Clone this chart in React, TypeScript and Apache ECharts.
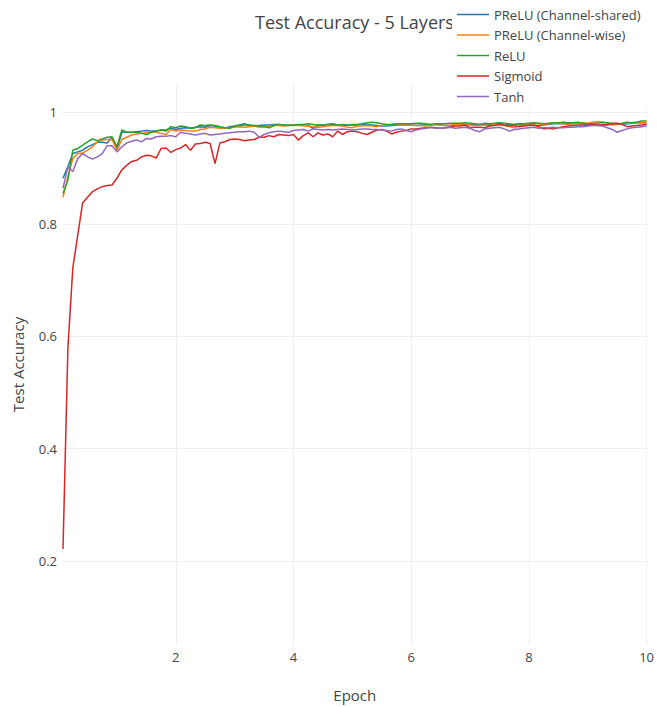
import React, { useEffect, useRef } from "react";
import * as echarts from "echarts";

// Evaluation runs every 1/12 of an epoch, from 1/12 up to epoch 10.
const stepsPerEpoch = 12;
const epochs: number[] = Array.from({ length: 120 }, (_, i) => (i + 1) / stepsPerEpoch);

const seriesNames = [
  "PReLU (Channel-shared)",
  "PReLU (Channel-wise)",
  "ReLU",
  "Sigmoid",
  "Tanh",
];
const seriesColors = ["#1f77b4", "#ff7f0e", "#2ca02c", "#d62728", "#9467bd"];

const preluShared = [
  0.882, 0.903, 0.926, 0.929, 0.932, 0.938, 0.942, 0.946, 0.946, 0.945,
  0.955, 0.934, 0.964, 0.964, 0.964, 0.965, 0.966, 0.967, 0.966, 0.966,
  0.968, 0.968, 0.971, 0.969, 0.971, 0.972, 0.971, 0.973, 0.974, 0.973,
  0.976, 0.975, 0.972, 0.971, 0.974, 0.975, 0.977, 0.979, 0.976, 0.975,
  0.976, 0.977, 0.977, 0.978, 0.978, 0.977, 0.976, 0.977, 0.977, 0.976,
  0.976, 0.971, 0.976, 0.977, 0.978, 0.979, 0.977, 0.976, 0.977, 0.977,
  0.977, 0.978, 0.978, 0.977, 0.976, 0.975, 0.975, 0.976, 0.977, 0.977,
  0.977, 0.977, 0.976, 0.977, 0.977, 0.978, 0.978, 0.977, 0.976, 0.975,
  0.978, 0.979, 0.976, 0.978, 0.977, 0.978, 0.977, 0.978, 0.979, 0.98,
  0.979, 0.977, 0.978, 0.979, 0.979, 0.978, 0.976, 0.976, 0.977, 0.978,
  0.979, 0.979, 0.979, 0.98, 0.981, 0.98, 0.979, 0.978, 0.977, 0.976,
  0.977, 0.978, 0.979, 0.979, 0.978, 0.979, 0.98, 0.981, 0.981, 0.98,
];

const preluWise = [
  0.848, 0.885, 0.917, 0.926, 0.927, 0.932, 0.938, 0.947, 0.95, 0.951,
  0.951, 0.932, 0.951, 0.955, 0.959, 0.961, 0.962, 0.963, 0.965, 0.964,
  0.962, 0.96, 0.969, 0.966, 0.968, 0.967, 0.966, 0.966, 0.969, 0.97,
  0.973, 0.972, 0.971, 0.971, 0.972, 0.973, 0.974, 0.973, 0.974, 0.975,
  0.973, 0.974, 0.974, 0.976, 0.976, 0.975, 0.976, 0.977, 0.976, 0.976,
  0.975, 0.974, 0.973, 0.974, 0.975, 0.976, 0.976, 0.975, 0.973, 0.972,
  0.975, 0.975, 0.976, 0.975, 0.974, 0.976, 0.977, 0.978, 0.979, 0.978,
  0.977, 0.977, 0.976, 0.976, 0.975, 0.977, 0.978, 0.977, 0.976, 0.977,
  0.978, 0.979, 0.978, 0.977, 0.976, 0.977, 0.977, 0.976, 0.978, 0.977,
  0.977, 0.974, 0.972, 0.975, 0.977, 0.979, 0.98, 0.979, 0.978, 0.979,
  0.98, 0.98, 0.979, 0.978, 0.979, 0.98, 0.981, 0.98, 0.982, 0.983,
  0.982, 0.98, 0.977, 0.978, 0.979, 0.98, 0.981, 0.982, 0.981, 0.98,
];

const relu = [
  0.855, 0.879, 0.932, 0.935, 0.941, 0.947, 0.952, 0.949, 0.952, 0.955,
  0.956, 0.938, 0.968, 0.964, 0.964, 0.964, 0.962, 0.96, 0.964, 0.966,
  0.968, 0.966, 0.974, 0.972, 0.975, 0.974, 0.971, 0.972, 0.977, 0.976,
  0.977, 0.976, 0.974, 0.972, 0.971, 0.975, 0.976, 0.977, 0.977, 0.976,
  0.975, 0.974, 0.972, 0.976, 0.978, 0.977, 0.977, 0.976, 0.978, 0.978,
  0.979, 0.978, 0.977, 0.977, 0.978, 0.978, 0.977, 0.978, 0.977, 0.978,
  0.978, 0.979, 0.981, 0.982, 0.981, 0.979, 0.978, 0.978, 0.979, 0.979,
  0.979, 0.979, 0.98, 0.98, 0.979, 0.978, 0.979, 0.979, 0.979, 0.98,
  0.98, 0.98, 0.981, 0.98, 0.979, 0.978, 0.98, 0.979, 0.98, 0.981,
  0.98, 0.979, 0.978, 0.978, 0.979, 0.98, 0.981, 0.98, 0.979, 0.98,
  0.981, 0.981, 0.982, 0.981, 0.981, 0.982, 0.98, 0.979, 0.979, 0.98,
  0.982, 0.981, 0.98, 0.979, 0.98, 0.982, 0.981, 0.982, 0.984, 0.984,
];

const sigmoid = [
  0.221, 0.58, 0.722, 0.78, 0.838, 0.848, 0.858, 0.863, 0.867, 0.869,
  0.87, 0.882, 0.897, 0.905, 0.912, 0.914, 0.92, 0.923, 0.922, 0.918,
  0.935, 0.936, 0.928, 0.933, 0.936, 0.942, 0.932, 0.943, 0.944, 0.946,
  0.944, 0.908, 0.945, 0.947, 0.951, 0.952, 0.951, 0.949, 0.95, 0.951,
  0.955, 0.955, 0.958, 0.956, 0.96, 0.959, 0.958, 0.96, 0.95, 0.958,
  0.963, 0.956, 0.963, 0.959, 0.961, 0.956, 0.966, 0.96, 0.965, 0.966,
  0.965, 0.962, 0.96, 0.964, 0.968, 0.969, 0.966, 0.961, 0.964, 0.966,
  0.967, 0.97, 0.97, 0.971, 0.972, 0.973, 0.972, 0.971, 0.972, 0.973,
  0.975, 0.975, 0.977, 0.972, 0.973, 0.973, 0.972, 0.975, 0.976, 0.978,
  0.976, 0.975, 0.976, 0.974, 0.975, 0.976, 0.977, 0.974, 0.97, 0.971,
  0.97, 0.972, 0.974, 0.975, 0.976, 0.977, 0.977, 0.976, 0.978, 0.977,
  0.978, 0.977, 0.979, 0.98, 0.978, 0.974, 0.975, 0.976, 0.977, 0.978,
];

const tanh = [
  0.864, 0.903, 0.894, 0.917, 0.926, 0.92, 0.916, 0.92, 0.926, 0.94,
  0.94, 0.929, 0.938, 0.945, 0.948, 0.95, 0.947, 0.953, 0.952, 0.956,
  0.957, 0.957, 0.958, 0.956, 0.964, 0.962, 0.961, 0.959, 0.961, 0.962,
  0.959, 0.96, 0.961, 0.962, 0.963, 0.964, 0.965, 0.965, 0.966, 0.964,
  0.955, 0.96, 0.963, 0.965, 0.966, 0.965, 0.964, 0.967, 0.968, 0.969,
  0.966, 0.97, 0.969, 0.968, 0.969, 0.968, 0.969, 0.97, 0.969, 0.968,
  0.969, 0.97, 0.97, 0.969, 0.969, 0.968, 0.967, 0.966, 0.969, 0.97,
  0.967, 0.965, 0.968, 0.97, 0.971, 0.973, 0.971, 0.971, 0.972, 0.973,
  0.971, 0.972, 0.973, 0.971, 0.967, 0.965, 0.97, 0.971, 0.972, 0.973,
  0.97, 0.966, 0.969, 0.97, 0.971, 0.972, 0.973, 0.971, 0.972, 0.972,
  0.973, 0.972, 0.972, 0.973, 0.973, 0.974, 0.974, 0.975, 0.976, 0.976,
  0.975, 0.972, 0.969, 0.964, 0.967, 0.97, 0.972, 0.973, 0.974, 0.975,
];

const xTicks = [2, 4, 6, 8, 10];
const yTicks = [0.2, 0.4, 0.6, 0.8, 1];

const FONT = "'Open Sans', 'Noto Sans', sans-serif";
const TEXT = "#444";
// Thin horizontal bar used as the legend swatch (a plain line, no marker).
const LINE_ICON = "path://M0,0 L32,0 L32,1.5 L0,1.5 Z";

export default function App() {
  const ref = useRef<HTMLDivElement>(null);

  useEffect(() => {
    if (!ref.current) return;
    const chart = echarts.init(ref.current, undefined, { renderer: "svg" });
    const allSeries = [preluShared, preluWise, relu, sigmoid, tanh];

    chart.setOption({
      animation: false,
      backgroundColor: "#fff",
      textStyle: { fontFamily: FONT },
      title: {
        text: "Test Accuracy - 5 Layers",
        left: 250,
        top: 8,
        z: 2,
        textStyle: { fontFamily: FONT, fontSize: 18, fontWeight: "normal", color: TEXT },
      },
      legend: {
        orient: "vertical",
        left: 452,
        top: 0,
        z: 10,
        backgroundColor: "#fff",
        padding: [8, 12, 7, 5],
        itemWidth: 32,
        itemHeight: 14,
        itemGap: 7.5,
        icon: LINE_ICON,
        textStyle: { fontFamily: FONT, fontSize: 13, color: TEXT },
        data: seriesNames,
      },
      grid: { left: 63, right: 9, top: 84, bottom: 62, containLabel: false },
      xAxis: {
        type: "value",
        min: 1 / stepsPerEpoch,
        max: 10,
        name: "Epoch",
        nameLocation: "middle",
        nameGap: 42,
        nameTextStyle: { fontFamily: FONT, fontSize: 15, color: TEXT },
        axisLine: { show: false },
        axisTick: { show: false, customValues: xTicks },
        axisLabel: {
          customValues: xTicks,
          margin: 5,
          fontFamily: FONT,
          fontSize: 13,
          color: TEXT,
        },
        splitLine: { show: true, lineStyle: { color: "#eee", width: 1 } },
      },
      yAxis: {
        type: "value",
        min: 0.05,
        max: 1.05,
        name: "Test Accuracy",
        nameLocation: "middle",
        nameGap: 38,
        nameTextStyle: { fontFamily: FONT, fontSize: 15, color: TEXT },
        axisLine: { show: false },
        axisTick: { show: false, customValues: yTicks },
        axisLabel: {
          customValues: yTicks,
          margin: 6,
          fontFamily: FONT,
          fontSize: 13,
          color: TEXT,
        },
        splitLine: { show: true, lineStyle: { color: "#eee", width: 1 } },
      },
      series: allSeries.map((values, i) => ({
        name: seriesNames[i],
        type: "line",
        symbol: "none",
        showSymbol: false,
        color: seriesColors[i],
        lineStyle: { width: 1.5, color: seriesColors[i] },
        data: epochs.map((e, j) => [e, values[j]]),
      })),
    });

    return () => chart.dispose();
  }, []);

  return <div ref={ref} style={{ width: 657, height: 707, position: "absolute", left: 0, top: 0 }} />;
}
